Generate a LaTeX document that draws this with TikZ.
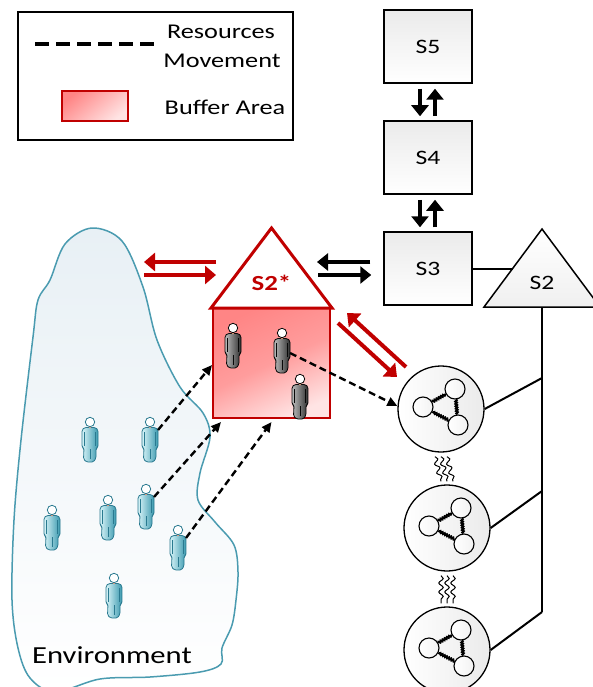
\documentclass[tikz,border=0pt]{standalone}
\usepackage{fontspec}
\setmainfont[FakeStretch=1.25]{Carlito}
\usetikzlibrary{arrows.meta,decorations.pathmorphing}

\definecolor{buffred}{HTML}{C00000}
\definecolor{pinkA}{HTML}{FF8585}
\definecolor{pinkB}{HTML}{FFE4E4}
\definecolor{envedge}{HTML}{4A9BB0}
\definecolor{envtop}{HTML}{E8F0F5}
\definecolor{blueL}{HTML}{D8F4F8}
\definecolor{blueD}{HTML}{3A98AE}
\definecolor{blueE}{HTML}{2A7A90}
\definecolor{grayL}{HTML}{BDBDBD}
\definecolor{grayD}{HTML}{2E2E2E}
\definecolor{grayE}{HTML}{080808}
\definecolor{collar}{HTML}{F0A080}

\tikzset{
  sbox/.style={draw, line width=1.5pt, minimum width=88pt, minimum height=73pt,
    top color=gray!16, bottom color=white, font=\fontsize{20.5}{24}\selectfont},
  hub/.style={circle, draw, line width=1.3pt, minimum size=86pt, inner sep=0pt,
    left color=white, right color=gray!16},
  ring/.style={circle, draw, line width=1.1pt, minimum size=20pt, inner sep=0pt,
    left color=white, right color=gray!10},
  bond/.style={line width=2.2pt, decorate,
    decoration={snake, amplitude=0.7pt, segment length=2.4pt}},
  wave/.style={line width=1pt, decorate,
    decoration={snake, amplitude=2.2pt, segment length=9pt}},
  flowred/.style={buffred, line width=4pt, -{Triangle[length=11pt,width=18pt]}},
  flowblack/.style={black, line width=3.5pt, -{Triangle[length=11pt,width=17pt]}},
  move/.style={black, line width=2.4pt, dash pattern=on 7pt off 4pt,
    -{Triangle[length=10pt,width=9pt]}},
  link/.style={line width=2pt},
  lbl/.style={font=\fontsize{21}{24}\selectfont, inner sep=0pt},
  % a standing figure, head centre at the origin; #1 picks the colour set
  figure/.pic={
    \path[draw=#1E, line width=0.8pt, left color=#1L, right color=#1D, rounded corners=1.5pt]
      (-5.5,5.5) -- (5.5,5.5) -- (8,8) -- (8,25) -- (6,26.5) -- (6,36)
      -- (3.5,40) -- (-3.5,40) -- (-6.5,37) -- (-6,26.5) -- (-8,25)
      -- (-8,8) -- cycle;
    \draw[#1E, line width=0.6pt] (-5.5,10) -- (-5.5,24) (5.5,10) -- (5.5,24) (0,27) -- (0,37);
    \fill[collar] (0,5) circle (1.3);
    \draw[#1E, line width=0.8pt, fill=white] (0,0) circle (4.7);
    \coordinate (-side) at (8,8);
    \coordinate (-hip) at (8,20);
  }
}

\begin{document}
\begin{tikzpicture}[x=1pt, y=-1pt]
\useasboundingbox (0,0) rectangle (592,687);

% ---------- environment region ----------
\draw[envedge, line width=1.5pt, top color=envtop, bottom color=white]
  plot[smooth cycle, tension=0.55] coordinates {
    (92,228) (122,241) (143,287) (157,340) (180,387) (203,413) (210,437)
    (200,473) (198,500) (215,522) (234,545) (238,572) (236,600) (232,625)
    (222,648) (221,664) (200,672) (150,677) (100,679) (55,692) (30,678)
    (18,648) (12,600) (14,520) (21,440) (33,337) (38,300) (50,280) (65,244)};
\node[font=\fontsize{24.5}{28}\selectfont, inner sep=0pt] (env) at (112,655) {Environment};

% ---------- people in the environment ----------
\pic (b1) at (90,422)  {figure=blue};
\pic (b2) at (150,422) {figure=blue};
\pic (b3) at (52,510)  {figure=blue};
\pic (b4) at (108,500) {figure=blue};
\pic (b5) at (146,489) {figure=blue};
\pic (b6) at (178,530) {figure=blue};
\pic (b7) at (114,578) {figure=blue};

% ---------- legend ----------
\draw[line width=1.5pt] (18,12) rectangle (293,140);
\coordinate (legA) at (35,44);
\coordinate (legB) at (157,44);
\draw[line width=3.5pt, dash pattern=on 14pt off 7pt] (legA) -- (legB);
\node[lbl] (legR) at (221,32) {Resources};
\node[lbl] (legM) at (222,61) {Movement};
\draw[buffred, line width=1.5pt, top color=pinkA, bottom color=pinkB, shading angle=40]
  (62,91) rectangle (128,121);
\node[lbl] (legB2) at (225,107) {Buffer Area};

% ---------- S5, S4, S3 stack ----------
\node[sbox] (S5) at (428,46.5) {S5};
\node[sbox] (S4) at (428,157.5) {S4};
\node[sbox] (S3) at (428,268.5) {S3};
\foreach \a/\b in {S5/S4, S4/S3} {
  \draw[flowblack] ([xshift=-8pt,yshift=-5pt]\a.south) -- ([xshift=-8pt,yshift=4pt]\b.north);
  \draw[flowblack] ([xshift=7pt,yshift=4pt]\b.north) -- ([xshift=7pt,yshift=-5pt]\a.south);
}

% ---------- S2 triangle and its bus ----------
\coordinate (s2apex) at (542,229);
\coordinate (s2bl) at (484,307);
\coordinate (s2br) at (600,307);
\draw[line width=1.5pt, top color=white, bottom color=gray!12, line join=miter]
  (s2apex) -- (s2br) -- (s2bl) -- cycle;
\node[font=\fontsize{20.5}{24}\selectfont] (S2) at (542,283) {S2};
\coordinate (s2edge) at (513,268.5);
\draw[link] (S3.east) -- (s2edge);

\coordinate (bustop) at (542,307);
\coordinate (bus1) at (542,378);
\coordinate (bus2) at (542,491);
\coordinate (bus3) at (542,612);
\draw[link] (bustop) -- (bus3);

% ---------- S1 units ----------
\foreach \i/\cx/\cy in {1/441/409, 2/447/528, 3/447/650} {
  \node[hub] (c\i) at (\cx,\cy) {};
  \node[ring] (r\i a) at (\cx-18,\cy-2) {};
  \node[ring] (r\i b) at (\cx+14,\cy-20) {};
  \node[ring] (r\i c) at (\cx+17,\cy+16) {};
  \draw[bond] (r\i a) -- (r\i b);
  \draw[bond] (r\i b) -- (r\i c);
  \draw[bond] (r\i c) -- (r\i a);
  \draw[link] (c\i.east) -- (bus\i);
}
\foreach \a/\b in {c1/c2, c2/c3} {
  \foreach \dx in {-6,0,6} {
    \draw[wave] ([xshift=\dx pt,yshift=-4pt]\a.south) -- ([xshift=\dx pt,yshift=3pt]\b.north);
  }
}

% ---------- buffer area S2* ----------
\node[draw=buffred, line width=2pt, minimum width=117pt, minimum height=110pt,
      inner sep=0pt, top color=pinkA, bottom color=pinkB, middle color=pinkA!75!pinkB,
      shading angle=25] (buf) at (271.5,363) {};
\coordinate (roofL) at (211,308);
\coordinate (roofR) at (332,308);
\coordinate (roofT) at (271.5,228);
\draw[buffred, line width=3pt, fill=white, line join=miter] (roofL) -- (roofT) -- (roofR) -- cycle;
\node[buffred, font=\bfseries\fontsize{21.5}{24}\selectfont] (S2s) at (271.5,283) {S2*};

\pic (g1) at (233,328) {figure=gray};
\pic (g2) at (282,333) {figure=gray};
\pic (g3) at (300,379) {figure=gray};

% ---------- exchanges ----------
\coordinate (envN) at (144,268.5);
\coordinate (roofW) at (216,268.5);
\coordinate (roofE) at (317,268.5);
\draw[flowred] ([yshift=6.5pt]roofW) -- ([yshift=6.5pt]envN);
\draw[flowred] ([yshift=-6.5pt]envN) -- ([yshift=-6.5pt]roofW);
\draw[flowblack] ([xshift=-13pt,yshift=6.5pt]S3.west) -- ([yshift=6.5pt]roofE);
\draw[flowblack] ([xshift=1pt,yshift=-6.5pt]roofE) -- ([xshift=-12pt,yshift=-6.5pt]S3.west);

\coordinate (dA1) at (406,367);
\coordinate (dA2) at (347,313);
\coordinate (dB1) at (338,323);
\coordinate (dB2) at (397,377);
\draw[flowred] (dA1) -- (dA2);
\draw[flowred] (dB1) -- (dB2);

% ---------- resource movements ----------
\draw[move] (b2-side) -- ([yshift=-2pt]buf.west);
\draw[move] (b5-side) -- ([xshift=9pt,yshift=-3pt]buf.south west);
\draw[move] (b6-side) -- ([yshift=-3pt]buf.south);
\draw[move] (g2-hip) -- ([yshift=3pt]c1.west);

\end{tikzpicture}
\end{document}
